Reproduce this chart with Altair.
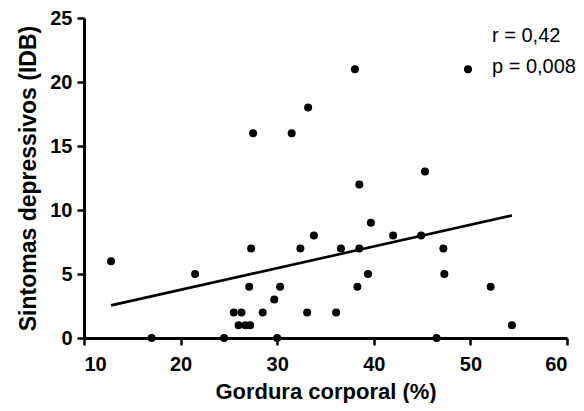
import altair as alt
import pandas as pd

# Gordura corporal (%) vs Sintomas depressivos (IDB)
body_fat = [12.8, 17.0, 21.5, 24.5, 25.5, 26.3, 26.0, 26.7, 27.2, 27.1,
            27.3, 27.5, 28.5, 29.7, 30.0, 30.3, 31.5, 32.4, 33.1, 33.2,
            33.8, 36.1, 36.6, 38.05, 38.3, 38.5, 38.5, 39.4, 39.7, 42.0,
            44.9, 45.3, 46.5, 47.2, 47.3, 49.75, 52.1, 54.3]
idb = [6, 0, 5, 0, 2, 2, 1, 1, 1, 4,
       7, 16, 2, 3, 0, 4, 16, 7, 2, 18,
       8, 2, 7, 21, 4, 12, 7, 5, 9, 8,
       8, 13, 0, 7, 5, 21, 4, 1]

# fitted regression line (end points)
fit_x = [12.8, 54.3]
fit_y = [2.55, 9.57]

x_ticks = [10, 20, 30, 40, 50, 60]
y_ticks = [0, 5, 10, 15, 20, 25]
stats_text = ["r = 0,42", "p = 0,008"]

pts = pd.DataFrame({"x": body_fat, "y": idb})
fit = pd.DataFrame({"x": fit_x, "y": fit_y})

FONT = "Liberation Sans"

xs = alt.Scale(domain=[10, 60], nice=False, zero=False)
ys = alt.Scale(domain=[0, 25], nice=False, zero=False)

x_axis = alt.Axis(values=x_ticks, title="Gordura corporal (%)", labelPadding=9,
                  titleBaseline="alphabetic", titleY=60, titleFontSize=22)
y_axis = alt.Axis(values=y_ticks, title="Sintomas depressivos (IDB)", labelPadding=5,
                  titleBaseline="alphabetic", titleX=-49, titleFontSize=23)

line = alt.Chart(fit).mark_line(color="black", strokeWidth=2.6).encode(
    x=alt.X("x:Q", scale=xs, axis=x_axis),
    y=alt.Y("y:Q", scale=ys, axis=y_axis),
)

points = alt.Chart(pts).mark_point(filled=True, color="black", size=64, opacity=1).encode(
    x=alt.X("x:Q", scale=xs, axis=x_axis),
    y=alt.Y("y:Q", scale=ys, axis=y_axis),
)

t1 = alt.Chart(pd.DataFrame({"t": [stats_text[0]]})).mark_text(
    align="left", baseline="middle", font=FONT, fontSize=20, color="black"
).encode(text="t:N", x=alt.value(408), y=alt.value(18))

t2 = alt.Chart(pd.DataFrame({"t": [stats_text[1]]})).mark_text(
    align="left", baseline="middle", font=FONT, fontSize=20, color="black"
).encode(text="t:N", x=alt.value(408), y=alt.value(49))

chart = alt.layer(line, points, t1, t2).properties(
    width=483,
    height=320,
    padding={"left": 76, "top": 10, "right": 9, "bottom": 65},
    autosize=alt.AutoSizeParams(type="none"),
).configure_view(stroke=None).configure_axis(
    grid=False,
    domainColor="black",
    domainWidth=3,
    tickColor="black",
    tickWidth=2.5,
    tickSize=7,
    labelColor="black",
    labelFont=FONT,
    labelFontWeight="bold",
    labelFontSize=20,
    titleColor="black",
    titleFont=FONT,
    titleFontWeight="bold",
)

chart.save("out.html", embed_options={"renderer": "svg", "actions": False})
